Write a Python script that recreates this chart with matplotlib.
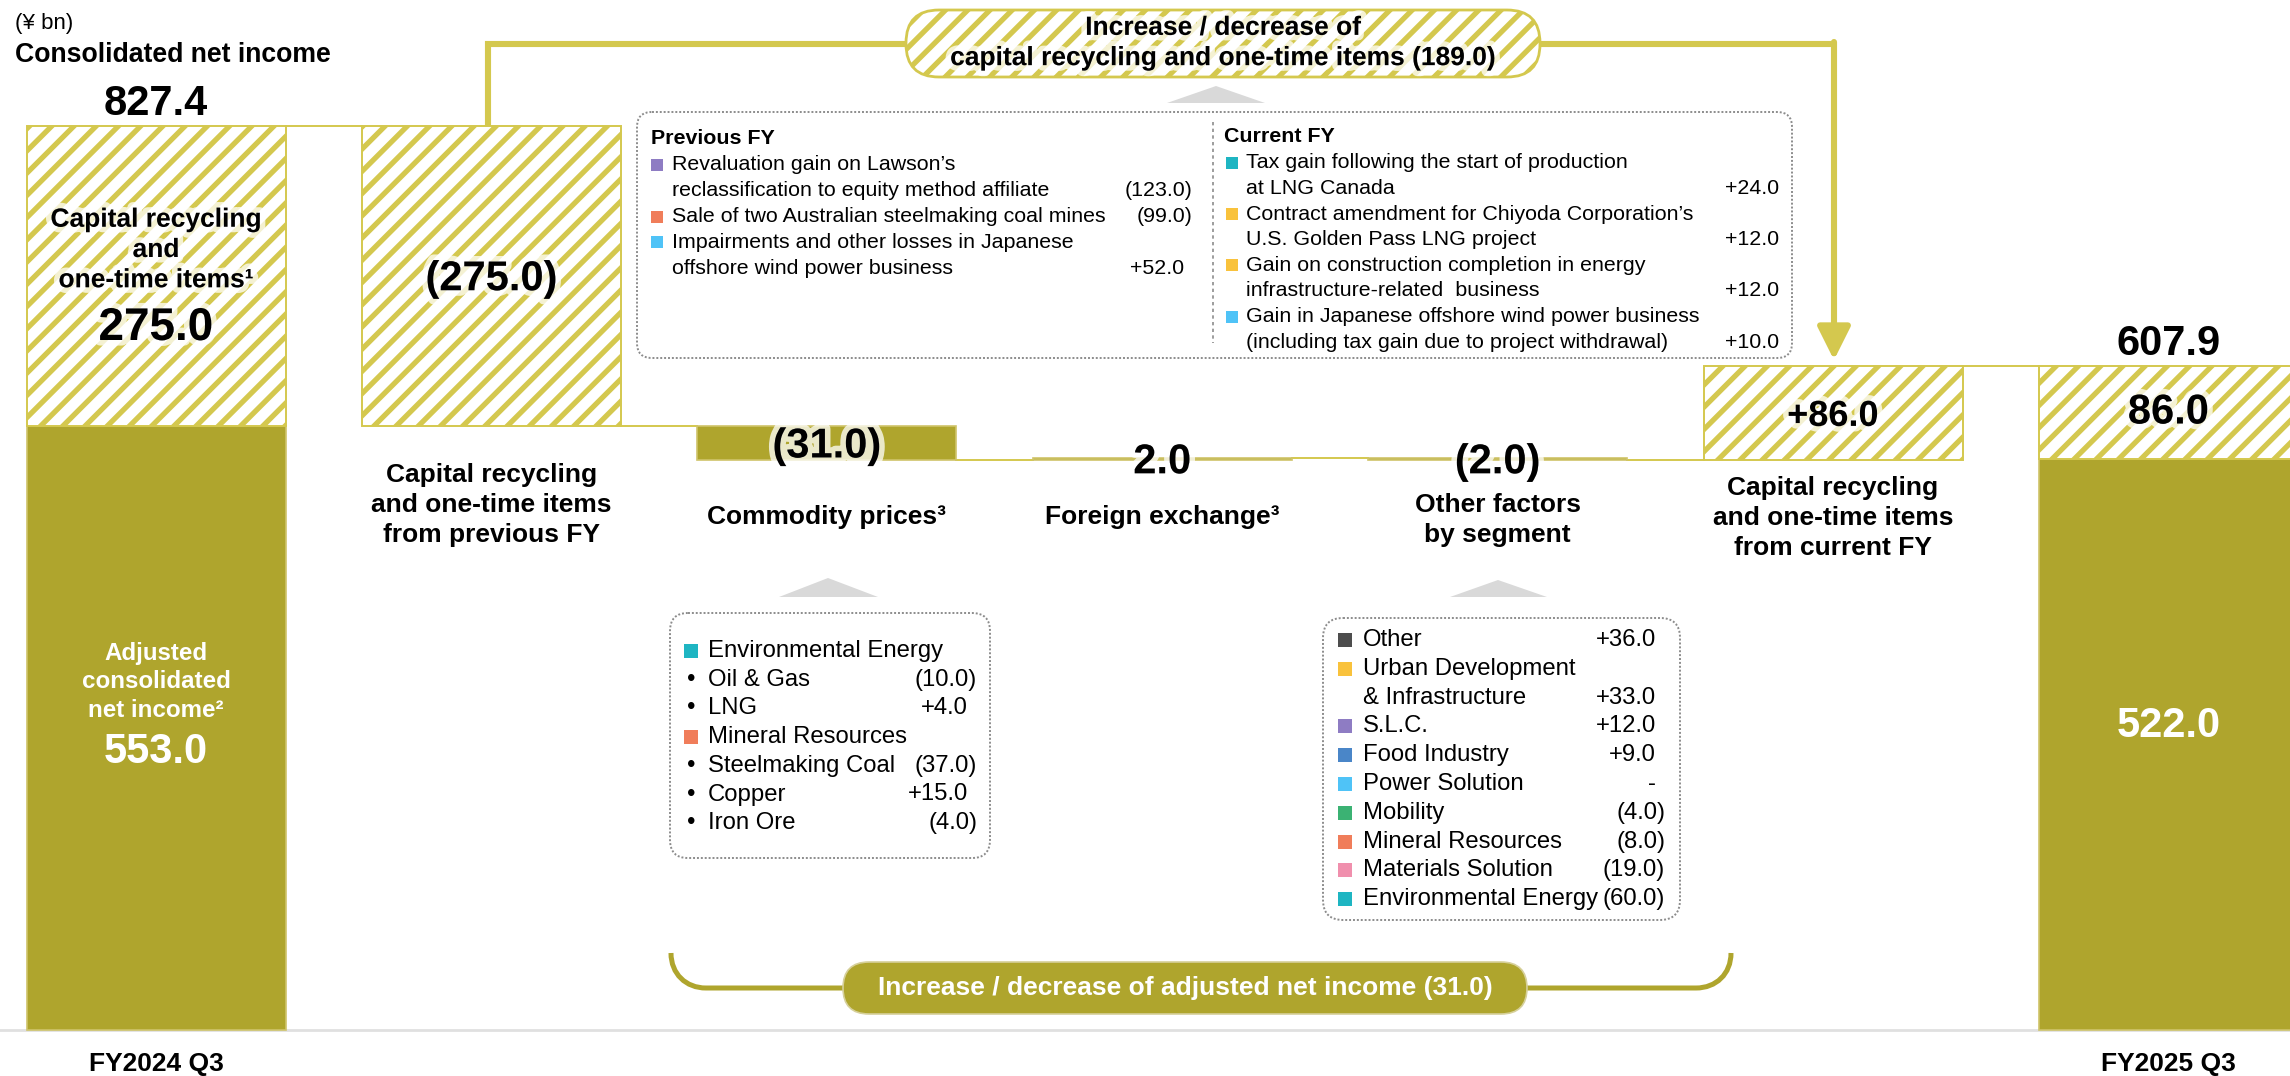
import matplotlib
matplotlib.use("Agg")
import matplotlib.pyplot as plt
import matplotlib.patheffects as pe
from matplotlib.patches import FancyBboxPatch, Polygon, Rectangle, PathPatch
from matplotlib.path import Path

plt.rcParams["font.family"] = ["Liberation Sans", "DejaVu Sans"]
plt.rcParams["hatch.linewidth"] = 1.9

# ---- data (¥ bn) ----
steps = [
    "FY2024 Q3",
    "Capital recycling\nand one-time items\nfrom previous FY",
    "Commodity prices³",
    "Foreign exchange³",
    "Other factors\nby segment",
    "Capital recycling\nand one-time items\nfrom current FY",
    "FY2025 Q3",
]
start_total = 827.4
start_adjusted = 553.0
start_one_time = 275.0
changes = [-275.0, -31.0, 2.0, -2.0, 86.0]
change_labels = ["(275.0)", "(31.0)", "2.0", "(2.0)", "+86.0"]
change_hatched = [True, False, False, False, True]
end_total = 607.9
end_adjusted = 522.0
end_one_time = 86.0
one_time_change = -189.0
adjusted_change = -31.0

prev_colors = ["#8E7CC3", None, "#F07D5A", "#4FC3F7", None]
prev_texts = [
    "Revaluation gain on Lawson’s",
    "reclassification to equity method affiliate",
    "Sale of two Australian steelmaking coal mines",
    "Impairments and other losses in Japanese",
    "offshore wind power business",
]
prev_values = ["", "(123.0)", "(99.0)", "", "+52.0"]

curr_colors = ["#1EB5C2", None, "#F9C23C", None, "#F9C23C", None, "#4FC3F7", None]
curr_texts = [
    "Tax gain following the start of production",
    "at LNG Canada",
    "Contract amendment for Chiyoda Corporation’s",
    "U.S. Golden Pass LNG project",
    "Gain on construction completion in energy",
    "infrastructure-related  business",
    "Gain in Japanese offshore wind power business",
    "(including tax gain due to project withdrawal)",
]
curr_values = ["", "+24.0", "", "+12.0", "", "+12.0", "", "+10.0"]

commodity_markers = ["#1EB5C2", "•", "•", "#F07D5A", "•", "•", "•"]
commodity_texts = ["Environmental Energy", "Oil & Gas", "LNG", "Mineral Resources",
                   "Steelmaking Coal", "Copper", "Iron Ore"]
commodity_values = ["", "(10.0)", "+4.0", "", "(37.0)", "+15.0", "(4.0)"]

segment_markers = ["#4D4D4D", "#F9C23C", None, "#8E7CC3", "#4A86C8", "#4FC3F7",
                   "#3BB273", "#F07D5A", "#F08FAD", "#1EB5C2"]
segment_texts = ["Other", "Urban Development", "& Infrastructure", "S.L.C.", "Food Industry",
                 "Power Solution", "Mobility", "Mineral Resources", "Materials Solution",
                 "Environmental Energy"]
segment_values = ["+36.0", "", "+33.0", "+12.0", "+9.0", "-", "(4.0)", "(8.0)", "(19.0)", "(60.0)"]

# ---- style / layout ----
OLIVE = "#AFA52D"
GOLD = "#D4C84E"
EDGE = "#CFC46A"
GREY_BOX = "#8C8C8C"
W, H = 2290, 1076
BASE_PX, PX_PER_UNIT = 1030, 1.093
X0_PX, DX_PX = 156, 335.4
BAR_W = 259 / DX_PX
FS_LABEL = 9.5
FS_VALUE = 15
LS = 1.33
glow = [pe.withStroke(linewidth=4, foreground=(1, 1, 1, 0.75))]


def ypx(p):
    return (BASE_PX - p) / PX_PER_UNIT


def xpx(i):
    return X0_PX + DX_PX * i


fig = plt.figure(figsize=(W / 200, H / 200), dpi=200)
ax = fig.add_axes([0, 0, 1, 1])
ax.set_xlim(-X0_PX / DX_PX, (W - X0_PX) / DX_PX)
ax.set_ylim(-(H - BASE_PX) / PX_PER_UNIT, BASE_PX / PX_PER_UNIT)
ax.axis("off")

ov = fig.add_axes([0, 0, 1, 1])
ov.set_xlim(0, W)
ov.set_ylim(H, 0)
ov.axis("off")
ov.patch.set_alpha(0)

ax.axhline(0, color="#E0E0E0", lw=1.0, zorder=1)

# ---- first and last stacked bars ----
last = len(steps) - 1
for x, adj, total in [(0, start_adjusted, start_total), (last, end_adjusted, end_total)]:
    ax.bar(x, adj, width=BAR_W, color=OLIVE, edgecolor=EDGE, linewidth=0.6, zorder=2)
    ax.bar(x, total - adj, bottom=adj, width=BAR_W, color="white", edgecolor=GOLD,
           hatch="///", linewidth=0.7, zorder=2)
    ax.text(x, total + 20, f"{total:.1f}", ha="center", va="center", fontsize=FS_VALUE,
            fontweight="bold")

# ---- waterfall steps ----
level = start_total
for i, (c, lab, hatched) in enumerate(zip(changes, change_labels, change_hatched), start=1):
    bottom = level + min(c, 0)
    if hatched:
        ax.bar(i, abs(c), bottom=bottom, width=BAR_W, color="white", edgecolor=GOLD,
               hatch="///", linewidth=0.7, zorder=2)
    else:
        ax.bar(i, abs(c), bottom=bottom, width=BAR_W, color=OLIVE, edgecolor=EDGE,
               linewidth=0.6, zorder=2)
    ax.plot([i - 1 + BAR_W / 2, i - BAR_W / 2], [level, level], color=GOLD, lw=0.7, zorder=1)
    level += c
    fs = 13 if lab.startswith("+") else FS_VALUE
    ax.text(i, bottom + abs(c) / 2 - 3, lab, ha="center", va="center", fontsize=fs,
            fontweight="bold", path_effects=glow, zorder=4)
ax.plot([last - 1 + BAR_W / 2, last - BAR_W / 2], [level, level], color=GOLD, lw=0.7, zorder=1)

# ---- texts inside first / last bars ----
ax.text(0, ypx(250), "Capital recycling\nand\none-time items¹", ha="center", va="center",
        fontsize=FS_LABEL, fontweight="bold", linespacing=LS, path_effects=glow, zorder=4)
ax.text(0, ypx(328), f"{start_one_time:.1f}", ha="center", va="center", fontsize=16.5,
        fontweight="bold", path_effects=glow, zorder=4)
ax.text(0, ypx(682), "Adjusted\nconsolidated\nnet income²", ha="center", va="center",
        fontsize=8.7, fontweight="bold", color="white", linespacing=LS, zorder=4)
ax.text(0, ypx(752), f"{start_adjusted:.1f}", ha="center", va="center", fontsize=FS_VALUE,
        fontweight="bold", color="white", zorder=4)
ax.text(last, (end_adjusted + end_total) / 2, f"{end_one_time:.1f}", ha="center", va="center",
        fontsize=FS_VALUE, fontweight="bold", path_effects=glow, zorder=4)
ax.text(last, ypx(726), f"{end_adjusted:.1f}", ha="center", va="center", fontsize=FS_VALUE,
        fontweight="bold", color="white", zorder=4)

# ---- category labels ----
label_px = {1: 505, 2: 517, 3: 517, 4: 520, 5: 518}
for i, px in label_px.items():
    ax.text(i, ypx(px), steps[i], ha="center", va="center", fontsize=FS_LABEL,
            fontweight="bold", linespacing=LS)
for i in (0, last):
    ax.text(i, ypx(1064), steps[i], ha="center", va="center", fontsize=FS_LABEL,
            fontweight="bold")

ov.text(15, 23, "(¥ bn)", ha="left", va="center", fontsize=8)
ov.text(15, 55, "Consolidated net income", ha="left", va="center", fontsize=9.6,
        fontweight="bold")

# ---- top callout: capital recycling change ----
ov.plot([xpx(1) - 3, xpx(1) - 3, 906], [126, 44, 44], color=GOLD, lw=2.2,
        solid_joinstyle="miter", solid_capstyle="butt")
ov.plot([1540, xpx(5) + 1], [44, 44], color=GOLD, lw=2.2, solid_capstyle="butt")
ov.annotate("", xy=(xpx(5) + 1, 360), xytext=(xpx(5) + 1, 42),
            arrowprops=dict(arrowstyle="-|>,head_length=1.0,head_width=0.5", color=GOLD,
                            lw=2.2, shrinkA=0, shrinkB=0))
ov.add_patch(FancyBboxPatch((906, 10), 634, 67, boxstyle="round,pad=0,rounding_size=33",
                            facecolor="white", edgecolor=GOLD, hatch="///", lw=1.0))
ov.text(1223, 43, f"Increase / decrease of\ncapital recycling and one-time items "
        f"({abs(one_time_change):.1f})", ha="center", va="center", fontsize=FS_LABEL,
        fontweight="bold", linespacing=LS, path_effects=glow)
ov.add_patch(Polygon([(1167, 103), (1265, 103), (1216, 86)], color="#D9D9D9", lw=0))

ov.add_patch(FancyBboxPatch((637, 112), 1155, 246, boxstyle="round,pad=0,rounding_size=15",
                            fill=False, edgecolor=GREY_BOX, lw=0.7, ls=(0, (1, 1))))
ov.plot([1213, 1213], [122, 343], color=GREY_BOX, lw=0.6, ls=(0, (2, 2)))
ov.text(651, 139, "Previous FY", ha="left", va="center", fontsize=7.7, fontweight="bold")
ov.text(1224, 137, "Current FY", ha="left", va="center", fontsize=7.7, fontweight="bold")


def draw_lines(colors, texts, values, x_sq, sq, x_text, x_val, y0, dy, fs, plus_shift):
    for k, (col, txt, val) in enumerate(zip(colors, texts, values)):
        y = y0 + k * dy
        if col == "•":
            ov.text(x_sq + sq / 2, y, "•", ha="center", va="center", fontsize=fs)
        elif col is not None:
            ov.add_patch(Rectangle((x_sq, y - sq / 2), sq, sq, color=col, lw=0))
        ov.text(x_text, y, txt, ha="left", va="center", fontsize=fs)
        if val:
            xr = x_val if val.startswith("(") else x_val - plus_shift
            ov.text(xr, y, val, ha="right", va="center", fontsize=fs)


draw_lines(prev_colors, prev_texts, prev_values, 651, 12, 672, 1192, 165, 25.75, 7.7, 8)
draw_lines(curr_colors, curr_texts, curr_values, 1226, 12, 1246, 1787, 163, 25.6, 7.7, 8)

# ---- bottom callouts ----
ov.add_patch(Polygon([(779, 597), (878, 597), (828, 578)], color="#D9D9D9", lw=0))
ov.add_patch(FancyBboxPatch((670, 613), 320, 245, boxstyle="round,pad=0,rounding_size=18",
                            fill=False, edgecolor=GREY_BOX, lw=0.7, ls=(0, (1, 1))))
draw_lines(commodity_markers, commodity_texts, commodity_values, 684, 14, 708, 977, 651,
           28.7, 8.6, 9)

ov.add_patch(Polygon([(1450, 597), (1547, 597), (1498, 580)], color="#D9D9D9", lw=0))
ov.add_patch(FancyBboxPatch((1323, 618), 357, 302, boxstyle="round,pad=0,rounding_size=20",
                            fill=False, edgecolor=GREY_BOX, lw=0.7, ls=(0, (1, 1))))
draw_lines(segment_markers, segment_texts, segment_values, 1338, 14, 1363, 1665, 640,
           28.8, 8.6, 9)

# bracket for adjusted net income change
bracket = Path(
    [(671, 953), (671, 974), (686, 988), (706, 988), (1696, 988),
     (1716, 988), (1731, 974), (1731, 953)],
    [Path.MOVETO, Path.CURVE4, Path.CURVE4, Path.CURVE4, Path.LINETO,
     Path.CURVE4, Path.CURVE4, Path.CURVE4],
)
ov.add_patch(PathPatch(bracket, fill=False, edgecolor=OLIVE, lw=1.8))
ov.add_patch(FancyBboxPatch((843, 962), 684, 52, boxstyle="round,pad=0,rounding_size=26",
                            facecolor=OLIVE, edgecolor="#D6D09A", lw=0.6))
ov.text(1185, 988, f"Increase / decrease of adjusted net income ({abs(adjusted_change):.1f})",
        ha="center", va="center", fontsize=FS_LABEL, fontweight="bold", color="white")

fig.savefig("out.png", dpi=200)
